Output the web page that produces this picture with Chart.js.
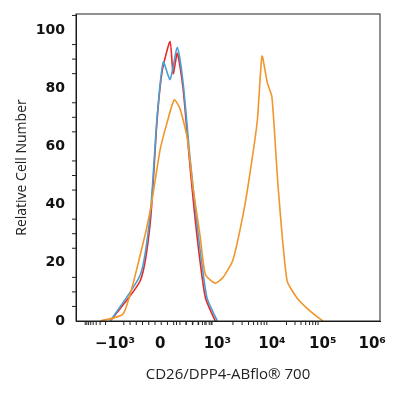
<!DOCTYPE html><html><head><script src="https://cdn.jsdelivr.net/npm/chart.js@4"></script>
<style>body{margin:0;background:#fff}#w{width:400px;height:400px}</style></head><body><div id="w"><canvas id="c"></canvas></div>
<script>
const redX=[-0.96,-0.38,-0.19,-0.06,0.04,0.19,0.25,0.33,0.44,0.58,0.71,0.87,1.06];
const redY=[0,14,34,69,86,96,85,92,80,52,29,8,0];
const blueX=[-0.96,-0.38,-0.19,-0.06,0.06,0.19,0.33,0.44,0.58,0.73,0.90,1.10];
const blueY=[0,16,37,70,89,83,94,82,55,30,8,0];
const orangeX=[-1.15,-0.71,-0.38,-0.19,0,0.13,0.27,0.38,0.52,0.63,0.77,0.87,1.06,1.21,1.40,1.60,1.73,1.87,1.96,2.06,2.15,2.27,2.44,2.63,2.88,3.13];
const orangeY=[0,2.5,23,38,59,68,76,73,63,46,29,16,13,15,21,37,51,69,91,82,77,46,14,8,3.5,0];
const tickPos=[-0.87,0,1.1,2.15,3.13,4.08];
const tickLabels=['−10³','0','10³','10⁴','10⁵','10⁶'];
const yTicks=[0,20,40,60,80,100];
const pts=(xs,ys)=>xs.map((x,i)=>({x,y:ys[i]}));
const ds=(xs,ys,c)=>({data:pts(xs,ys),borderColor:c,borderWidth:1.6,pointRadius:0,tension:0.2,fill:false});
const minor={id:'minor',afterDraw(ch){const c=ch.ctx,a=ch.chartArea,xs=ch.scales.x,ys=ch.scales.y;c.save();c.strokeStyle='#222';c.lineWidth=1;c.strokeRect(a.left,a.top,a.right-a.left,a.bottom-a.top);
c.beginPath();for(let v=0;v<=105;v+=5){if(v%20===0)continue;const p=ys.getPixelForValue(v);c.moveTo(a.left-4,p);c.lineTo(a.left,p);}
for(let d=1;d<4;d++){const s=tickPos[d+1]-tickPos[d];for(let k=2;k<10;k++){const p=xs.getPixelForValue(tickPos[d]+Math.log10(k)*s*0.95);c.moveTo(p,a.bottom);c.lineTo(p,a.bottom+4);}}
for(let k=2;k<10;k++){const p=xs.getPixelForValue(tickPos[0]-Math.log10(k)*0.6);if(p>a.left){c.moveTo(p,a.bottom);c.lineTo(p,a.bottom+4);}}
for(let v=-0.7;v<1.0;v+=0.12){const p=xs.getPixelForValue(v);c.moveTo(p,a.bottom);c.lineTo(p,a.bottom+4);}
c.stroke();c.restore();}};
new Chart(document.getElementById('c'),{type:'line',data:{datasets:[ds(orangeX,orangeY,'#f0962a'),ds(blueX,blueY,'#4a9fd0'),ds(redX,redY,'#e8282b')]},
options:{responsive:true,maintainAspectRatio:false,animation:false,layout:{padding:{top:14,right:20,left:10,bottom:12}},plugins:{legend:{display:false},tooltip:{enabled:false}},
scales:{x:{type:'linear',min:-1.62,max:4.23,afterBuildTicks:s=>{s.ticks=tickPos.map(v=>({value:v}))},afterFit:s=>{s.height=67},
ticks:{autoSkip:false,maxRotation:0,color:'#111',padding:8,font:{family:'DejaVu Sans',size:15,weight:'bold'},callback:(v,i)=>tickLabels[i]},
grid:{display:false,drawTicks:true,tickLength:6,tickColor:'#111'},border:{color:'#111'},
title:{display:true,text:'CD26/DPP4-ABflo® 700',color:'#222',font:{family:'Open Sans',size:15},padding:{top:6}}},
y:{min:0,max:105.5,afterBuildTicks:s=>{s.ticks=yTicks.map(v=>({value:v}))},afterFit:s=>{s.width=66},
ticks:{color:'#111',font:{family:'DejaVu Sans',size:14,weight:'bold'},padding:4},
grid:{display:false,drawTicks:true,tickLength:7,tickColor:'#111'},border:{color:'#111'},
title:{display:true,text:'Relative Cell Number',color:'#222',font:{family:'Open Sans',size:14},padding:{bottom:0}}}}},plugins:[minor]});
</script></body></html>
